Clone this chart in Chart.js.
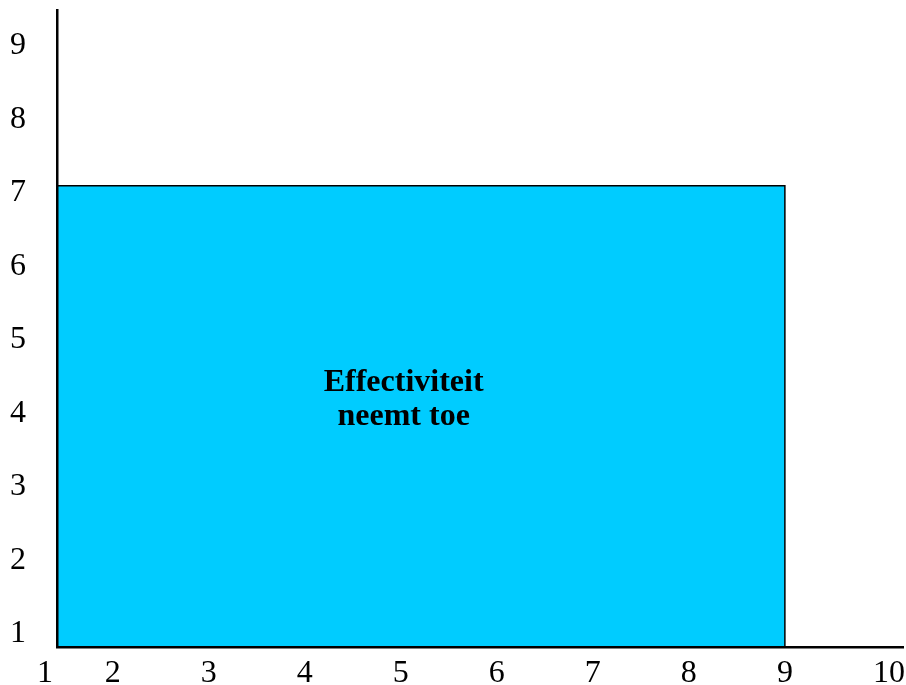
<!DOCTYPE html>
<html>
<head>
<meta charset="utf-8">
<script src="https://cdn.jsdelivr.net/npm/chart.js@4.4.1/dist/chart.umd.min.js"></script>
<style>
  body { margin: 0; background: #fff; }
</style>
</head>
<body>
<canvas id="myChart" width="906" height="685"></canvas>
<script>
// axis ticks as printed on the picture
var xTicks = [1.42, 2, 3, 4, 5, 6, 7, 8, 9, 10];
var xTickLabels = ["1   ", "2", "3", "4", "5", "6", "7", "8", "9", "  10"];
var yTicks = [1, 2, 3, 4, 5, 6, 7, 8, 9];
var yTickLabels = ["1", "2", "3", "4", "5", "6", "7", "8", "9"];

// the shaded region: from x=1 to x=9, up to y=7.1
var areaX = [1, 9, 9];
var areaY = [7.1, 7.1, 0];

var areaText = ["Effectiviteit", "neemt toe"];
var textPos = { x: 5.03, y: 4.3 };

var serif = "'Liberation Serif', 'Times New Roman', serif";

var labelPlugin = {
    id: "areaLabel",
    afterDatasetsDraw: function (chart) {
        var c = chart.ctx;
        var px = chart.scales.x.getPixelForValue(textPos.x);
        var py = chart.scales.y.getPixelForValue(textPos.y);
        c.save();
        c.font = "bold 32px " + serif;
        c.fillStyle = "#000";
        c.textAlign = "center";
        c.textBaseline = "alphabetic";
        for (var i = 0; i < areaText.length; i++) {
            c.fillText(areaText[i], px, py + i * 34);
        }
        c.restore();
    }
};

var ctx = document.getElementById("myChart");
new Chart(ctx, {
    type: "line",
    data: {
        datasets: [
            {
                data: areaX.map(function (x, i) { return { x: x, y: areaY[i] }; }),
                borderColor: "#000",
                borderWidth: 1.5,
                backgroundColor: "#00CCFF",
                fill: "start",
                pointRadius: 0,
                tension: 0,
                clip: 0
            }
        ]
    },
    options: {
        responsive: false,
        animation: false,
        layout: { padding: { top: 10, right: 3, left: 0, bottom: 0 } },
        plugins: {
            legend: { display: false },
            tooltip: { enabled: false }
        },
        scales: {
            x: {
                type: "linear",
                min: 1.42,
                max: 10.23,
                afterBuildTicks: function (scale) {
                    scale.ticks = xTicks.map(function (v) { return { value: v }; });
                },
                afterFit: function (scale) {
                    scale.height = 38;
                    scale.paddingLeft = 0;
                    scale.paddingRight = 0;
                },
                ticks: {
                    autoSkip: false,
                    maxRotation: 0,
                    padding: 7,
                    color: "#000",
                    font: { family: serif, size: 32 },
                    callback: function (v, i) { return xTickLabels[i]; }
                },
                grid: { drawOnChartArea: false, drawTicks: false },
                border: { display: true, color: "#000", width: 2.5, z: 1 }
            },
            y: {
                type: "linear",
                min: 0.823,
                max: 9.49,
                afterBuildTicks: function (scale) {
                    scale.ticks = yTicks.map(function (v) { return { value: v }; });
                },
                afterFit: function (scale) {
                    scale.width = 57;
                    scale.paddingTop = 0;
                    scale.paddingBottom = 0;
                },
                ticks: {
                    autoSkip: false,
                    padding: 31,
                    color: "#000",
                    font: { family: serif, size: 32 },
                    callback: function (v, i) { return yTickLabels[i]; }
                },
                grid: { drawOnChartArea: false, drawTicks: false },
                border: { display: true, color: "#000", width: 2.5, z: 1 }
            }
        }
    },
    plugins: [labelPlugin]
});
</script>
</body>
</html>
